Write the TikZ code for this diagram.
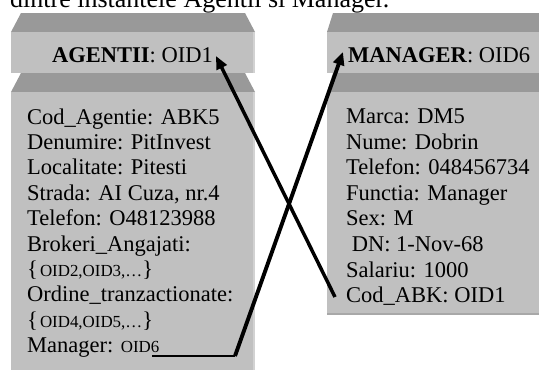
\documentclass[tikz,border=0pt]{standalone}
\usepackage{fontspec}
\setmainfont{Liberation Serif}
\usetikzlibrary{arrows.meta}
\definecolor{darkband}{HTML}{999999}
\definecolor{lightband}{HTML}{C0C0C0}
\definecolor{edgelight}{HTML}{D2D2D2}
\definecolor{edgedark}{HTML}{A8A8A8}
\newcommand{\bodyfnt}{\fontsize{22.5}{25.5}\selectfont}
\newcommand{\smallfnt}{\fontsize{16.9}{19}\selectfont}
\newcommand{\titlefnt}{\fontsize{26}{30}\selectfont}
\begin{document}
\begin{tikzpicture}[x=1pt,y=-1pt,
  txt/.style={anchor=base west, inner sep=0pt, font=\bodyfnt},
  conn/.style={line width=3.9pt, -{Triangle[length=13pt,width=11pt]}},
  thinconn/.style={line width=2.2pt}]
\useasboundingbox (0,0) rectangle (539,372);
\begin{scope}
\clip (0,0) rectangle (539,372);
% title (cut off at the top)
\node[anchor=base west, inner sep=0pt, font=\titlefnt] (title) at (10,7) {dintre instantele Agentii si Manager.};
% left box
\fill[darkband] (21,13) -- (245,13) -- (255,32) -- (11,32) -- cycle;
\fill[lightband] (11,32) rectangle (255,73);
\fill[darkband] (21,73) -- (245,73) -- (255,92) -- (11,92) -- cycle;
\fill[lightband] (11,92) rectangle (255,370);
\fill[edgelight] (252.5,32) rectangle (255,73);
\fill[edgelight] (252.5,92) rectangle (255,370);
% right box
\fill[darkband] (333,13) -- (545,13) -- (545,32) -- (327,32) -- cycle;
\fill[lightband] (327,32) rectangle (545,73);
\fill[darkband] (333,73) -- (545,73) -- (545,92) -- (327,92) -- cycle;
\fill[lightband] (327,92) rectangle (545,313);
\fill[edgedark] (327,313) rectangle (545,315);
\end{scope}
% headers
\node[txt] (agh) at (52,62) {\textbf{AGENTII}: OID1};
\node[txt] (mgh) at (348,62) {\textbf{MANAGER}: OID6};
% left attributes
\node[txt] (a1) at (27,124) {Cod\_Agentie: ABK5};
\node[txt] (a2) at (27,149.4) {Denumire: PitInvest};
\node[txt] (a3) at (27,174.8) {Localitate: Pitesti};
\node[txt] (a4) at (27,200.2) {Strada: AI Cuza, nr.4};
\node[txt] (a5) at (27,225.6) {Telefon: O48123988};
\node[txt] (a6) at (27,251) {Brokeri\_Angajati:};
\node[txt] (a7) at (27,276.4) {\{\hspace{2pt}{\smallfnt OID2,OID3,…}\}};
\node[txt] (a8) at (27,301.8) {Ordine\_tranzactionate:};
\node[txt] (a9) at (27,327.2) {\{\hspace{2pt}{\smallfnt OID4,OID5,…}\}};
\node[txt] (a10) at (27,352.6) {Manager: {\smallfnt OID6}};
% right attributes
\node[txt] (b1) at (346,123.5) {Marca: DM5};
\node[txt] (b2) at (346,149.1) {Nume: Dobrin};
\node[txt] (b3) at (346,174.7) {Telefon: 048456734};
\node[txt] (b4) at (346,200.3) {Functia: Manager};
\node[txt] (b5) at (346,225.9) {Sex: M};
\node[txt] (b6) at (346,251.5) {\hspace{5.6pt}DN: 1-Nov-68};
\node[txt] (b7) at (346,277.1) {Salariu: 1000};
\node[txt] (b8) at (346,302.7) {Cod\_ABK: OID1};
% connector anchor points
\coordinate (m1) at (152,356);
\coordinate (m2) at (235,356);
\coordinate (tipM) at (343,52);
\coordinate (abk) at (335,297);
\coordinate (tipA) at (216,56);
% connectors
\draw[thinconn] (m1) -- (m2);
\draw[conn] (m2) -- (tipM);
\draw[conn, line width=3.5pt] (abk) -- (tipA);
\end{tikzpicture}
\end{document}
